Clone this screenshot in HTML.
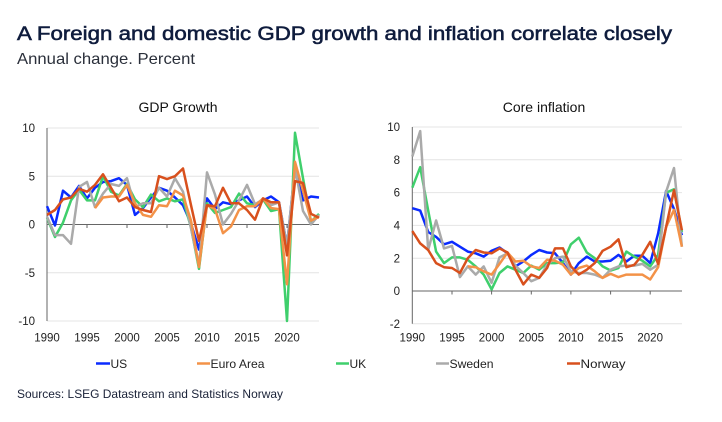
<!DOCTYPE html>
<html><head><meta charset="utf-8"><style>
html,body{margin:0;padding:0;background:#fff;}
svg{display:block;font-family:"Liberation Sans",Arial,sans-serif;}
</style></head><body>
<svg width="722" height="422" viewBox="0 0 722 422" xmlns="http://www.w3.org/2000/svg">
<rect width="722" height="422" fill="#fff"/>
<text x="17" y="40" font-size="19.5" fill="#0f1c3d" stroke="#0f1c3d" stroke-width="0.55" textLength="655" lengthAdjust="spacingAndGlyphs">A Foreign and domestic GDP growth and inflation correlate closely</text>
<text x="17" y="64" font-size="16" fill="#2a2f3a" textLength="178" lengthAdjust="spacingAndGlyphs">Annual change. Percent</text>

<!-- Left chart -->
<text x="178" y="112" font-size="14" fill="#111" text-anchor="middle">GDP Growth</text>
<g stroke="#e4e4e4" stroke-width="1">
<line x1="47" y1="128" x2="319" y2="128"/>
<line x1="47" y1="176.3" x2="319" y2="176.3"/>
<line x1="47" y1="272.8" x2="319" y2="272.8"/>
<line x1="47" y1="321" x2="319" y2="321"/>
</g>
<g stroke="#666" stroke-width="1">
<line x1="47" y1="128" x2="47" y2="321"/>
<line x1="47" y1="224.5" x2="319" y2="224.5"/>
<line x1="87" y1="224.5" x2="87" y2="228"/>
<line x1="127" y1="224.5" x2="127" y2="228"/>
<line x1="167" y1="224.5" x2="167" y2="228"/>
<line x1="207" y1="224.5" x2="207" y2="228"/>
<line x1="247" y1="224.5" x2="247" y2="228"/>
<line x1="287" y1="224.5" x2="287" y2="228"/>
</g>
<g font-size="11.5" fill="#222" text-anchor="end">
<text x="35" y="132">10</text>
<text x="35" y="180.5">5</text>
<text x="35" y="228.5">0</text>
<text x="35" y="277">-5</text>
<text x="35" y="325.2">-10</text>
</g>
<g font-size="11.5" fill="#222" text-anchor="middle">
<text x="47" y="341.5">1990</text>
<text x="87" y="341.5">1995</text>
<text x="127" y="341.5">2000</text>
<text x="167" y="341.5">2005</text>
<text x="207" y="341.5">2010</text>
<text x="247" y="341.5">2015</text>
<text x="287" y="341.5">2020</text>
</g>
<g fill="none" stroke-width="2.5" stroke-linejoin="round">
<polyline stroke="#0a2bff" points="47,206.2 55,225.5 63,190.7 71,197.5 79,185.9 87,198.4 95,187.8 103,182 111,181.1 119,178.2 127,184.9 135,214.9 143,208.1 151,197.5 159,187.8 167,190.7 175,197.5 183,205.2 191,223.5 199,249.6 207,198.4 215,209.1 223,202.3 231,204.2 239,200.4 247,196.5 255,207.1 263,200.4 271,196.5 279,202.3 287,245.7 295,168.5 303,200.4 311,196.5 319,197.5"/>
<polyline stroke="#3fcf6c" points="47,217.7 55,237 63,222.6 71,200.4 79,189.8 87,200.4 95,200.4 103,176.2 111,191.7 119,195.5 127,184 135,199.4 143,207.1 151,194.6 159,201.3 167,198.4 175,201.3 183,199.4 191,227.4 199,268.9 207,203.3 215,212.9 223,210 231,207.1 239,193.6 247,203.3 255,205.2 263,199.4 271,211 279,209.1 287,321 295,132.8 303,178.2 311,221.6 319,213.9"/>
<polyline stroke="#aaaaaa" points="47,216.8 55,235.1 63,235.1 71,243.8 79,186.9 87,182 95,207.1 103,193.6 111,184 119,185.9 127,178.2 135,207.1 143,203.3 151,203.3 159,187.8 167,196.5 175,178.2 183,191.7 191,228.4 199,266 207,172.4 215,194.6 223,224.5 231,213.9 239,200.4 247,184.9 255,204.2 263,199.4 271,205.2 279,202.3 287,245.7 295,167.6 303,211 311,224.5 319,214.9"/>
<polyline stroke="#f39248" points="95,208.1 103,197.5 111,196.5 119,196.5 127,184.9 135,203.3 143,214.9 151,216.8 159,205.2 167,206.2 175,190.7 183,195.5 191,220.6 199,267 207,205.2 215,209.1 223,233.2 231,226.4 239,210 247,206.2 255,206.2 263,198.4 271,208.1 279,209.1 287,284.3 295,161.8 303,190.7 311,220.6 319,216.8"/>
<polyline stroke="#d8501d" points="47,214.9 55,210 63,199.4 71,197.5 79,188.8 87,191.7 95,184.9 103,174.3 111,187.8 119,201.3 127,197.5 135,207.1 143,210 151,212 159,176.2 167,179.1 175,176.2 183,168.5 191,205.2 199,240.9 207,205.2 215,206.2 223,187.8 231,203.3 239,203.3 247,210 255,219.7 263,198.4 271,202.3 279,202.3 287,255.4 295,181.1 303,183 311,213.9 319,217.7"/>
</g>

<!-- Right chart -->
<text x="544" y="112" font-size="14" fill="#111" text-anchor="middle">Core inflation</text>
<g stroke="#e4e4e4" stroke-width="1">
<line x1="412.3" y1="127" x2="682" y2="127"/>
<line x1="412.3" y1="159.8" x2="682" y2="159.8"/>
<line x1="412.3" y1="192.6" x2="682" y2="192.6"/>
<line x1="412.3" y1="225.4" x2="682" y2="225.4"/>
<line x1="412.3" y1="258.2" x2="682" y2="258.2"/>
<line x1="412.3" y1="323.8" x2="682" y2="323.8"/>
</g>
<g stroke="#666" stroke-width="1">
<line x1="412.3" y1="127" x2="412.3" y2="323.8"/>
<line x1="412.3" y1="291" x2="682" y2="291"/>
<line x1="452" y1="291" x2="452" y2="294.5"/>
<line x1="491.6" y1="291" x2="491.6" y2="294.5"/>
<line x1="531.3" y1="291" x2="531.3" y2="294.5"/>
<line x1="570.9" y1="291" x2="570.9" y2="294.5"/>
<line x1="610.6" y1="291" x2="610.6" y2="294.5"/>
<line x1="650.2" y1="291" x2="650.2" y2="294.5"/>
</g>
<g font-size="11.5" fill="#222" text-anchor="end">
<text x="400" y="131">10</text>
<text x="400" y="163.9">8</text>
<text x="400" y="196.7">6</text>
<text x="400" y="229.5">4</text>
<text x="400" y="262.3">2</text>
<text x="400" y="295.1">0</text>
<text x="400" y="327.9">-2</text>
</g>
<g font-size="11.5" fill="#222" text-anchor="middle">
<text x="412.3" y="341.5">1990</text>
<text x="452" y="341.5">1995</text>
<text x="491.6" y="341.5">2000</text>
<text x="531.3" y="341.5">2005</text>
<text x="570.9" y="341.5">2010</text>
<text x="610.6" y="341.5">2015</text>
<text x="650.2" y="341.5">2020</text>
</g>
<g fill="none" stroke-width="2.5" stroke-linejoin="round">
<polyline stroke="#0a2bff" points="412.3,208.2 420.2,210.6 428.2,232 436.1,236.9 444,244.3 452,241.8 459.9,246.7 467.8,251.6 475.7,253.3 483.7,256.6 491.6,250.8 499.5,247.5 507.5,253.3 515.4,266.4 523.3,261.5 531.3,254.9 539.2,250 547.1,252.5 555,253.3 563,263.1 570.9,274.6 578.8,263.1 586.8,256.6 594.7,261.5 602.6,261.5 610.6,260.7 618.5,254.9 626.4,261.5 634.3,255.7 642.3,255.7 650.2,263.1 658.1,233.6 666.1,191 674,209 681.9,235.2"/>
<polyline stroke="#3fcf6c" points="412.3,187.7 420.2,167.2 428.2,210.6 436.1,251.6 444,263.1 452,257.4 459.9,257.4 467.8,259.8 475.7,266.4 483.7,274.6 491.6,289.4 499.5,273 507.5,266.4 515.4,269.7 523.3,273 531.3,265.6 539.2,269.7 547.1,263.1 555,263.1 563,262.3 570.9,244.3 578.8,237.7 586.8,252.5 594.7,258.2 602.6,266.4 610.6,270.5 618.5,268 626.4,251.6 634.3,256.6 642.3,260.7 650.2,266.4 658.1,254.9 666.1,192.6 674,189.3 681.9,232"/>
<polyline stroke="#aaaaaa" points="412.3,156.5 420.2,131.1 428.2,250 436.1,220.5 444,248.4 452,245.9 459.9,277.1 467.8,266.4 475.7,274.6 483.7,266.4 491.6,282.8 499.5,257.4 507.5,253.3 515.4,265.6 523.3,273 531.3,281.2 539.2,277.9 547.1,264.8 555,258.2 563,256.6 570.9,271.3 578.8,273 586.8,273 594.7,274.6 602.6,277.9 610.6,269.7 618.5,266.4 626.4,265.6 634.3,265.6 642.3,263.9 650.2,269.7 658.1,264.8 666.1,191.8 674,168 681.9,246.7"/>
<polyline stroke="#f39248" points="467.8,266.4 475.7,267.2 483.7,271.3 491.6,274.6 499.5,263.9 507.5,252.5 515.4,261.5 523.3,260.7 531.3,266.4 539.2,268 547.1,259.8 555,260.7 563,264.8 570.9,274.6 578.8,268 586.8,265.6 594.7,271.3 602.6,277.9 610.6,273.8 618.5,277.1 626.4,274.6 634.3,274.6 642.3,274.6 650.2,279.5 658.1,267.2 666.1,227 674,209.8 681.9,246.7"/>
<polyline stroke="#d8501d" points="412.3,231.1 420.2,243.4 428.2,250 436.1,263.1 444,267.2 452,268 459.9,273 467.8,258.2 475.7,250 483.7,252.5 491.6,253.3 499.5,248.4 507.5,252.5 515.4,269.7 523.3,284.4 531.3,274.6 539.2,277.9 547.1,268 555,248.4 563,248.4 570.9,266.4 578.8,274.6 586.8,269.7 594.7,263.1 602.6,250.8 610.6,246.7 618.5,239.3 626.4,267.2 634.3,264.8 642.3,254.9 650.2,241.8 658.1,263.9 666.1,227 674,190.1 681.9,230.3"/>
</g>

<!-- Legend -->
<g stroke-width="2.5">
<line x1="96" y1="363.5" x2="110" y2="363.5" stroke="#0a2bff"/>
<line x1="197" y1="363.5" x2="210" y2="363.5" stroke="#f39248"/>
<line x1="336" y1="363.5" x2="349" y2="363.5" stroke="#3fcf6c"/>
<line x1="436" y1="363.5" x2="449" y2="363.5" stroke="#aaaaaa"/>
<line x1="567" y1="363.5" x2="580" y2="363.5" stroke="#d8501d"/>
</g>
<g font-size="12" fill="#222">
<text x="110.5" y="367.8">US</text>
<text x="210.5" y="367.8" textLength="54" lengthAdjust="spacingAndGlyphs">Euro Area</text>
<text x="349.5" y="367.8">UK</text>
<text x="449.5" y="367.8" textLength="44" lengthAdjust="spacingAndGlyphs">Sweden</text>
<text x="580.5" y="367.8" textLength="45" lengthAdjust="spacingAndGlyphs">Norway</text>
</g>
<text x="17" y="398" font-size="12" fill="#1a2238" textLength="266" lengthAdjust="spacingAndGlyphs">Sources: LSEG Datastream and Statistics Norway</text>
</svg>
</body></html>
